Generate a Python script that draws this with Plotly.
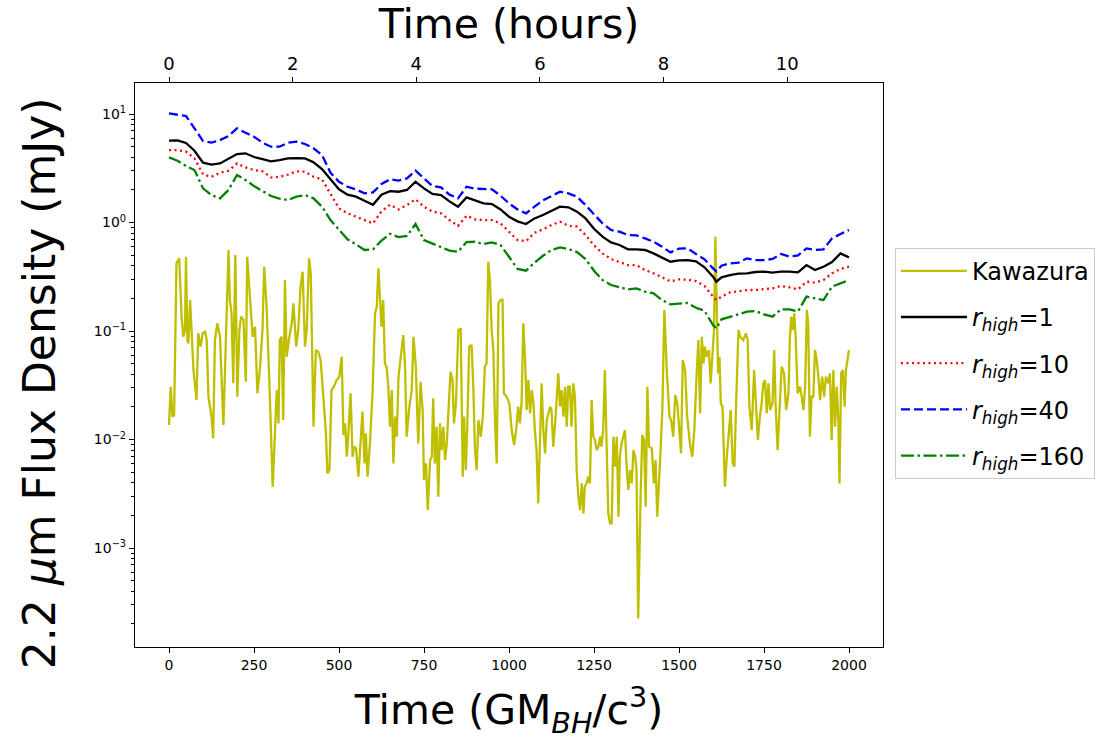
import numpy as np
import plotly.graph_objects as go

# ---------------- data ----------------
# simulation time grid (GM_BH/c^3) for the r_high curves
t_sim = [0, 25, 50, 75, 100, 125, 150, 175, 200, 225,
         250, 275, 300, 325, 350, 375, 400, 425, 450, 475,
         500, 525, 550, 575, 600, 625, 650, 675, 700, 725,
         750, 775, 800, 825, 850, 875, 900, 925, 950, 975,
         1000, 1025, 1050, 1075, 1100, 1125, 1150, 1175, 1200, 1225,
         1250, 1275, 1300, 1325, 1350, 1375, 1400, 1425, 1450, 1475,
         1500, 1525, 1550, 1575, 1600, 1610, 1625, 1650, 1675, 1700,
         1725, 1750, 1775, 1800, 1825, 1850, 1875, 1900, 1925, 1950,
         1975, 2000]

# log10 of 2.2 micron flux density (mJy)
log_rhigh1 = [0.754, 0.757, 0.733, 0.662, 0.552, 0.533, 0.545, 0.591, 0.631, 0.638,
              0.604, 0.585, 0.564, 0.576, 0.591, 0.594, 0.591, 0.555, 0.493, 0.398,
              0.306, 0.257, 0.238, 0.201, 0.164, 0.257, 0.290, 0.284, 0.300, 0.376,
              0.315, 0.263, 0.253, 0.195, 0.146, 0.232, 0.201, 0.177, 0.170, 0.121,
              0.054, 0.011, -0.014, 0.038, 0.069, 0.106, 0.146, 0.140, 0.100, 0.038,
              -0.057, -0.130, -0.183, -0.207, -0.247, -0.247, -0.253, -0.284, -0.321, -0.361,
              -0.349, -0.346, -0.358, -0.413, -0.499, -0.545, -0.505, -0.484, -0.471, -0.468,
              -0.456, -0.453, -0.462, -0.453, -0.453, -0.459, -0.392, -0.438, -0.407, -0.364,
              -0.284, -0.321]

log_rhigh10 = [0.668, 0.668, 0.653, 0.591, 0.444, 0.422, 0.459, 0.478, 0.545, 0.508,
               0.484, 0.472, 0.416, 0.422, 0.441, 0.472, 0.469, 0.422, 0.398, 0.263,
               0.131, 0.085, 0.054, 0.029, -0.008, 0.103, 0.164, 0.121, 0.161, 0.214,
               0.146, 0.100, 0.085, 0.023, -0.032, 0.063, 0.029, 0.023, 0.023, -0.008,
               -0.084, -0.161, -0.173, -0.094, -0.063, -0.023, 0.008, -0.029, -0.038, -0.115,
               -0.210, -0.284, -0.336, -0.361, -0.392, -0.392, -0.438, -0.468, -0.505, -0.542,
               -0.524, -0.527, -0.539, -0.585, -0.683, -0.714, -0.683, -0.644, -0.634, -0.622,
               -0.622, -0.613, -0.607, -0.585, -0.597, -0.616, -0.545, -0.554, -0.530, -0.468,
               -0.428, -0.407]

log_rhigh40 = [1.006, 0.997, 0.982, 0.868, 0.751, 0.736, 0.760, 0.797, 0.868, 0.828,
               0.791, 0.736, 0.699, 0.699, 0.736, 0.745, 0.724, 0.684, 0.622, 0.459,
               0.376, 0.330, 0.306, 0.269, 0.278, 0.355, 0.398, 0.386, 0.407, 0.478,
               0.407, 0.336, 0.324, 0.257, 0.223, 0.330, 0.312, 0.306, 0.306, 0.247,
               0.177, 0.121, 0.085, 0.146, 0.204, 0.244, 0.284, 0.269, 0.238, 0.161,
               0.078, -0.008, -0.069, -0.084, -0.115, -0.118, -0.146, -0.177, -0.223, -0.275,
               -0.241, -0.238, -0.290, -0.339, -0.422, -0.450, -0.398, -0.376, -0.370, -0.330,
               -0.346, -0.346, -0.336, -0.290, -0.315, -0.303, -0.238, -0.253, -0.247, -0.146,
               -0.106, -0.069]

log_rhigh160 = [0.601, 0.570, 0.521, 0.484, 0.315, 0.253, 0.223, 0.300, 0.438, 0.392,
                0.336, 0.293, 0.244, 0.220, 0.207, 0.238, 0.253, 0.223, 0.146, 0.023,
                -0.063, -0.155, -0.201, -0.253, -0.247, -0.167, -0.103, -0.134, -0.124, -0.014,
                -0.161, -0.192, -0.223, -0.259, -0.269, -0.180, -0.177, -0.198, -0.183, -0.207,
                -0.315, -0.428, -0.444, -0.370, -0.306, -0.253, -0.229, -0.244, -0.272, -0.336,
                -0.444, -0.530, -0.576, -0.597, -0.616, -0.607, -0.637, -0.653, -0.714, -0.754,
                -0.751, -0.742, -0.785, -0.813, -0.945, -0.975, -0.892, -0.868, -0.849, -0.822,
                -0.816, -0.846, -0.868, -0.800, -0.800, -0.819, -0.683, -0.699, -0.714, -0.591,
                -0.561, -0.530]

# Kawazura model: (time, log10 flux) pairs
kawazura_early = [
    (0, -1.866), (5, -1.513), (10, -1.789), (15, -1.774), (22, -0.376), (30, -0.330), (37, -0.868),
    (42, -1.052), (47, -0.991), (50, -0.315), (54, -1.083), (57, -1.114), (62, -0.714), (67, -0.991),
    (72, -1.359), (81, -1.636), (86, -1.021), (93, -1.144), (99, -1.021), (106, -1.006), (111, -1.083),
    (116, -1.605), (125, -1.789), (130, -1.989), (135, -1.083), (142, -0.929), (150, -1.052),
    (160, -1.866), (168, -1.083), (175, -0.253), (179, -0.714), (184, -0.837), (189, -1.482),
    (195, -0.300), (201, -1.605), (207, -0.991), (212, -0.868), (219, -0.899), (226, -1.467),
    (230, -0.315), (238, -0.684), (246, -1.052), (253, -0.960), (260, -1.574), (268, -1.329),
    (275, -0.991), (280, -0.407), (287, -0.776), (295, -1.452), (305, -2.435), (312, -1.912),
    (317, -1.544), (322, -1.851), (326, -1.083), (331, -1.052), (336, -1.820), (341, -0.530),
    (346, -1.237), (354, -1.052), (361, -0.929), (366, -0.745), (374, -1.144), (380, -0.991),
    (387, -0.591), (393, -0.453), (400, -1.144), (405, -0.991), (412, -0.330), (417, -0.468),
    (425, -1.882), (432, -1.175), (439, -1.190), (446, -1.267), (452, -1.513), (461, -1.912),
    (466, -2.312), (472, -2.281), (478, -1.544), (485, -1.513), (493, -1.452), (501, -1.421),
    (508, -1.237), (513, -1.958), (518, -1.851), (523, -2.158), (527, -1.974), (534, -1.574),
    (540, -2.158), (544, -2.066), (550, -2.081), (557, -2.342), (562, -2.097), (569, -1.743),
    (575, -2.220), (579, -1.943), (584, -2.342), (591, -2.035), (599, -1.544), (606, -0.837),
    (611, -0.776), (616, -0.422),
]
kawazura_mid = [
    (625, -0.960), (630, -0.714), (635, -1.298), (640, -1.329), (645, -1.513), (650, -1.882),
    (655, -1.544), (660, -2.220), (665, -1.789), (670, -1.974), (675, -1.421), (681, -1.237),
    (689, -1.037), (694, -1.298), (699, -1.974), (707, -1.697), (714, -1.544), (719, -1.052),
    (726, -1.329), (733, -2.035), (740, -1.467), (746, -1.728), (750, -2.373), (756, -2.220),
    (761, -2.650), (768, -2.189), (773, -2.158), (777, -1.620), (782, -2.220), (787, -1.882),
    (792, -2.527), (797, -1.851), (802, -2.097), (807, -1.882), (812, -2.189), (817, -2.035),
    (822, -1.697), (828, -1.375), (834, -1.452), (838, -1.851), (844, -1.667), (851, -0.991),
    (858, -0.975), (864, -2.342), (868, -1.789), (873, -2.281), (877, -1.912), (883, -1.144),
    (890, -1.129), (895, -1.513), (900, -2.097), (905, -2.281), (910, -1.820), (917, -1.974),
    (923, -1.789), (929, -1.329), (934, -1.298), (939, -0.361), (944, -0.545), (949, -0.991),
    (954, -1.175), (959, -1.851), (964, -2.220), (969, -0.745), (975, -0.714), (981, -0.714),
    (985, -1.574), (993, -1.605), (1001, -1.667), (1008, -1.912), (1015, -2.051), (1021, -1.912),
    (1027, -1.697), (1032, -1.851), (1037, -1.667), (1042, -0.929), (1047, -1.237), (1052, -1.728),
    (1057, -1.452), (1062, -1.759), (1067, -1.544), (1072, -1.667), (1076, -1.912), (1081, -2.097),
    (1086, -2.588), (1091, -2.004), (1096, -1.482), (1101, -1.912), (1106, -2.127), (1111, -1.820),
    (1121, -1.697), (1125, -1.728), (1130, -2.066), (1135, -1.882), (1140, -1.667), (1145, -1.390),
    (1150, -1.697), (1155, -1.544), (1160, -1.789), (1165, -1.513), (1170, -1.882), (1174, -1.513),
    (1179, -1.513), (1184, -1.882), (1189, -1.482), (1194, -1.605), (1199, -2.281), (1204, -2.527),
    (1209, -2.650), (1214, -2.404), (1219, -2.680), (1223, -2.435), (1228, -2.404), (1233, -2.342),
    (1238, -2.404), (1243, -1.636), (1248, -1.974), (1253, -2.004), (1258, -2.097), (1263, -2.066),
    (1268, -1.974), (1272, -2.066), (1277, -1.912), (1282, -1.359), (1287, -2.035), (1292, -2.680),
    (1297, -2.772), (1302, -2.772), (1307, -1.974), (1312, -2.250), (1317, -1.974), (1322, -2.711),
    (1326, -2.158), (1331, -2.035), (1336, -1.974), (1341, -1.912), (1346, -2.250), (1351, -2.465),
    (1356, -2.281), (1361, -2.404), (1366, -2.097), (1371, -2.158), (1375, -2.281),
]
kawazura_late = [
    (1380, -3.648), (1387, -2.527), (1392, -1.958), (1397, -2.004), (1402, -2.619), (1407, -1.513),
    (1412, -2.066), (1420, -2.081), (1426, -2.404), (1431, -2.189), (1436, -2.711), (1444, -2.220),
    (1451, -1.728), (1457, -0.806), (1464, -1.359), (1472, -1.789), (1477, -1.820), (1483, -1.974),
    (1489, -1.590), (1495, -1.667), (1501, -1.912), (1506, -2.127), (1511, -1.267), (1518, -1.359),
    (1524, -1.789), (1532, -2.035), (1539, -2.158), (1545, -1.912), (1552, -1.390), (1557, -1.083),
    (1562, -1.759), (1567, -1.052), (1572, -1.298), (1576, -1.144), (1581, -1.237), (1588, -1.175),
    (1593, -1.482), (1599, -1.144), (1603, -0.991), (1607, -0.131), (1611, -0.684), (1615, -1.390),
    (1619, -1.237), (1623, -1.667), (1628, -1.697), (1635, -2.435), (1640, -2.189), (1646, -1.912),
    (1652, -1.728), (1658, -2.220), (1663, -2.250), (1668, -1.667), (1675, -0.991), (1680, -1.052),
    (1689, -1.083), (1697, -1.021), (1702, -1.083), (1707, -1.697), (1714, -1.912), (1721, -1.359),
    (1727, -1.728), (1732, -2.004), (1738, -1.789), (1743, -1.667), (1748, -1.482), (1753, -1.452),
    (1758, -1.759), (1763, -1.482), (1768, -1.728), (1775, -1.667), (1780, -1.175), (1784, -1.667),
    (1790, -2.097), (1795, -1.728), (1802, -1.329), (1809, -1.390), (1815, -1.728), (1822, -1.574),
    (1826, -1.083), (1830, -0.868), (1834, -0.991), (1839, -0.837), (1843, -1.052), (1849, -1.574),
    (1856, -1.513), (1861, -1.605), (1866, -1.728), (1871, -1.513), (1876, -0.806), (1880, -0.929),
    (1885, -1.974), (1890, -1.605), (1895, -1.605), (1900, -1.175), (1905, -1.267), (1910, -1.421),
    (1915, -1.636), (1921, -1.421), (1927, -1.605), (1932, -1.421), (1939, -1.482), (1944, -1.390),
    (1949, -2.004), (1954, -1.359), (1959, -1.882), (1964, -1.513), (1969, -1.851), (1972, -2.404),
    (1977, -1.390), (1982, -1.359), (1987, -1.697), (1991, -1.359), (2000, -1.175),
]

# axis tick labels
x_ticks = [0, 250, 500, 750, 1000, 1250, 1500, 1750, 2000]
hour_ticks = [0, 2, 4, 6, 8, 10]
y_ticks = [1e-3, 1e-2, 1e-1, 1, 10]
y_ticktext = ["10<sup>\u22123</sup>", "10<sup>\u22122</sup>", "10<sup>\u22121</sup>",
              "10<sup>0</sup>", "10<sup>1</sup>"]

# ---------------- figure ----------------
kaw = kawazura_early + kawazura_mid + kawazura_late
kaw_t = [p[0] for p in kaw]
kaw_f = (10.0 ** np.array([p[1] for p in kaw])).tolist()

series = [
    ("Kawazura", kaw_t, kaw_f, "#bfbf00", "solid"),
    ("<i>r</i><sub><i>high</i></sub>=1", t_sim, (10.0 ** np.array(log_rhigh1)).tolist(), "#000000", "solid"),
    ("<i>r</i><sub><i>high</i></sub>=10", t_sim, (10.0 ** np.array(log_rhigh10)).tolist(), "#ff0000", "2px,3.5px"),
    ("<i>r</i><sub><i>high</i></sub>=40", t_sim, (10.0 ** np.array(log_rhigh40)).tolist(), "#0000ff", "9px,4px"),
    ("<i>r</i><sub><i>high</i></sub>=160", t_sim, (10.0 ** np.array(log_rhigh160)).tolist(), "#008000", "13px,3.5px,2.5px,3.5px"),
]

fig = go.Figure()
for i, (name, xs, ys, col, dash) in enumerate(series):
    fig.add_trace(go.Scatter(
        x=xs, y=ys, name=name, mode="lines", legendgroup=f"g{i}",
        line=dict(color=col, width=2.3, dash=dash),
    ))

# helper trace so the top (hours) axis is drawn
fig.add_trace(go.Scatter(x=[0, 11], y=[1, 1], xaxis="x2", mode="lines",
                         line=dict(width=0, color="rgba(0,0,0,0)"),
                         showlegend=False, hoverinfo="skip"))

minor_vals = [m * 10.0 ** e for e in range(-4, 2) for m in range(2, 10)]
FONT = "DejaVu Sans"

fig.update_layout(
    width=1101, height=742,
    margin=dict(l=135, r=218, t=83, b=95, autoexpand=False),
    paper_bgcolor="white", plot_bgcolor="white",
    font=dict(family=FONT, color="black"),
    showlegend=True,
    legend=dict(x=1.016, y=0.708, xanchor="left", yanchor="top",
                font=dict(size=24, family=FONT), bgcolor="white",
                bordercolor="#cccccc", borderwidth=1, itemwidth=66,
                tracegroupgap=12, traceorder="grouped"),
    xaxis=dict(range=[-100, 2100], tickmode="array", tickvals=x_ticks,
               ticks="outside", ticklen=5, tickwidth=1.2, tickcolor="black",
               showline=True, linecolor="black", linewidth=1.2, mirror=False,
               showgrid=False, zeroline=False, tickfont=dict(size=14),
               title=dict(text="Time (GM<sub><i>BH</i></sub>/c<sup>3</sup>)",
                          font=dict(size=41), standoff=23)),
    xaxis2=dict(overlaying="x", side="top", anchor="y", range=[-0.55, 11.55],
                tickmode="array", tickvals=hour_ticks,
                ticks="outside", ticklen=5, tickwidth=1.2, tickcolor="black",
                showline=True, linecolor="black", linewidth=1.2,
                showgrid=False, zeroline=False, tickfont=dict(size=18),
                title=dict(text="Time (hours)", font=dict(size=41), standoff=3)),
    yaxis=dict(type="log", range=[-3.912, 1.286], tickmode="array",
               tickvals=y_ticks, ticktext=y_ticktext,
               ticks="outside", ticklen=5, tickwidth=1.2, tickcolor="black",
               minor=dict(tickmode="array", tickvals=minor_vals, ticks="outside",
                          ticklen=3, tickwidth=1, tickcolor="black", showgrid=False),
               showline=True, linecolor="black", linewidth=1.2, mirror=True,
               showgrid=False, zeroline=False, tickfont=dict(size=14)),
    annotations=[dict(text="2.2 <i>\u03bc</i>m Flux Density (mJy)",
                      xref="paper", yref="paper", x=-0.128, y=0.468,
                      xanchor="center", yanchor="middle", textangle=-90,
                      showarrow=False, font=dict(size=44, family=FONT))],
)

fig.write_html("out.html")
